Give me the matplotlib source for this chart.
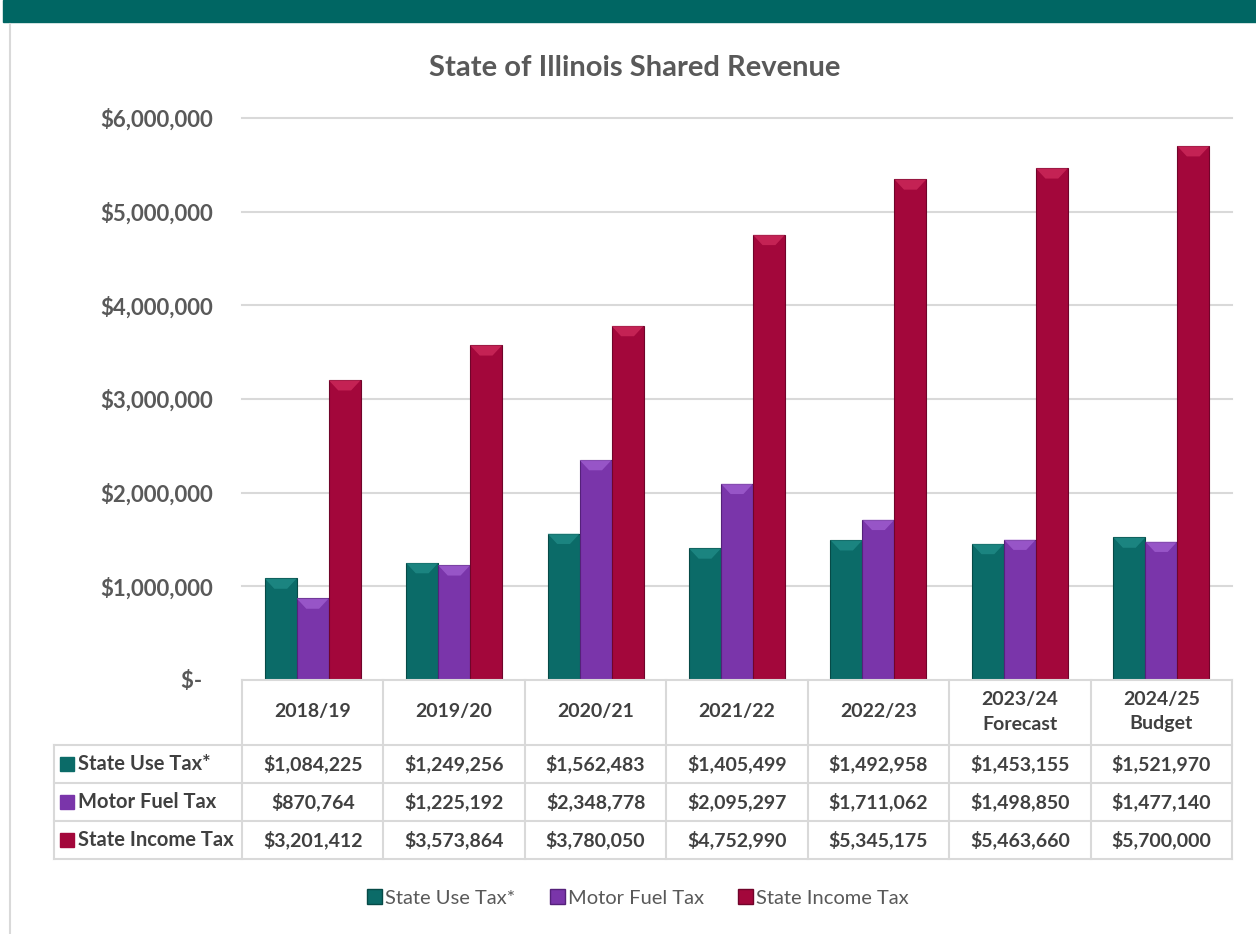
import matplotlib.pyplot as plt
from matplotlib.patches import Patch, Rectangle, Polygon
from matplotlib.lines import Line2D

categories = ['2018/19', '2019/20', '2020/21', '2021/22', '2022/23',
              '2023/24\nForecast', '2024/25\nBudget']
series_names = ['State Use Tax*', 'Motor Fuel Tax', 'State Income Tax']
use_tax = [1084225, 1249256, 1562483, 1405499, 1492958, 1453155, 1521970]
fuel_tax = [870764, 1225192, 2348778, 2095297, 1711062, 1498850, 1477140]
income_tax = [3201412, 3573864, 3780050, 4752990, 5345175, 5463660, 5700000]
y_ticks = [0, 1000000, 2000000, 3000000, 4000000, 5000000, 6000000]

colors = ['#0b6b68', '#7a35aa', '#a3073b']
tops = ['#2a9a95', '#b070e0', '#e03a6a']
edges = ['#064a47', '#55217a', '#70042a']

plt.rcParams['font.family'] = ['Lato', 'DejaVu Sans']
W, H = 1256, 934
fig = plt.figure(figsize=(W / 100, H / 100), dpi=100)


def fx(x):
    return x / W


def fy(y):
    return 1 - y / H


# top band and page border
fig.patches.append(Rectangle((fx(3), fy(22)), fx(1253), 22 / H, transform=fig.transFigure,
                             color='#006663', zorder=0))
fig.add_artist(Line2D([fx(10), fx(10)], [fy(24), 0], color='#d9d9d9', lw=1.5))

ax = fig.add_axes([fx(242), fy(680), fx(1232) - fx(242), (680 - 118) / H])
ax.set_xlim(-0.5, len(categories) - 0.5)
ax.set_ylim(0, 6000000)
for s in ax.spines.values():
    s.set_visible(False)
ax.set_xticks([])
ax.set_yticks(y_ticks)
ax.set_yticklabels(['$-  '] + ['${:,}'.format(v) for v in y_ticks[1:]])
ax.tick_params(axis='y', length=0, pad=21, labelsize=16, labelcolor='#595959')
for lab in ax.get_yticklabels():
    lab.set_fontweight('bold')
for v in y_ticks[1:]:
    ax.axhline(v, color='#d9d9d9', lw=1.5, zorder=0, clip_on=False)

width = 0.226
dy = 110000
for i, vals in enumerate([use_tax, fuel_tax, income_tax]):
    xs = [k + (i - 1) * width for k in range(len(categories))]
    ax.bar(xs, vals, width=width, color=colors[i], edgecolor=edges[i], lw=0.8, zorder=2)
    for x, h in zip(xs, vals):
        x0, x1 = x - width / 2, x + width / 2
        d = width * 0.3
        ax.add_patch(Polygon([(x0, h), (x1, h), (x1 - d, h - dy), (x0 + d, h - dy)],
                             closed=True, color=tops[i], alpha=0.55, lw=0, zorder=3))

fig.text(fx(635), fy(68), 'State of Illinois Shared Revenue', ha='center', va='center',
         fontsize=21, fontweight='bold', color='#595959')

# data table
grid_c = '#d9d9d9'
col_x = [242 + k * (1232 - 242) / len(categories) for k in range(len(categories) + 1)]
row_y = [680, 745, 783, 821, 859]
fig.add_artist(Line2D([fx(242), fx(1232)], [fy(680), fy(680)], color=grid_c, lw=1.5))
for y in row_y[1:]:
    fig.add_artist(Line2D([fx(54), fx(1232)], [fy(y), fy(y)], color=grid_c, lw=1.5))
for x in col_x:
    fig.add_artist(Line2D([fx(x), fx(x)], [fy(680), fy(859)], color=grid_c, lw=1.5))
fig.add_artist(Line2D([fx(54), fx(54)], [fy(745), fy(859)], color=grid_c, lw=1.5))

for k, cat in enumerate(categories):
    cx = (col_x[k] + col_x[k + 1]) / 2
    fig.text(fx(cx), fy(712), cat, ha='center', va='center', fontsize=14,
             fontweight='bold', color='#404040', linespacing=1.5)

for i, vals in enumerate([use_tax, fuel_tax, income_tax]):
    cy = (row_y[i + 1] + row_y[i + 2]) / 2
    fig.patches.append(Rectangle((fx(60), fy(cy + 7)), 14 / W, 14 / H,
                                 transform=fig.transFigure, color=colors[i]))
    fig.text(fx(78), fy(cy), series_names[i], ha='left', va='center', fontsize=14.5,
             fontweight='bold', color='#404040')
    for k, v in enumerate(vals):
        cx = (col_x[k] + col_x[k + 1]) / 2
        fig.text(fx(cx), fy(cy), '${:,}'.format(v), ha='center', va='center',
                 fontsize=14, fontweight='bold', color='#404040')

handles = [Patch(facecolor=colors[i], edgecolor=edges[i], label=series_names[i])
           for i in range(3)]
fig.legend(handles=handles, loc='center', bbox_to_anchor=(fx(638), fy(898)), ncol=3,
           frameon=False, fontsize=14.5, handlelength=0.75, handleheight=0.75,
           handletextpad=0.15, columnspacing=1.7, labelcolor='#595959')

fig.savefig('out.png', dpi=100)
